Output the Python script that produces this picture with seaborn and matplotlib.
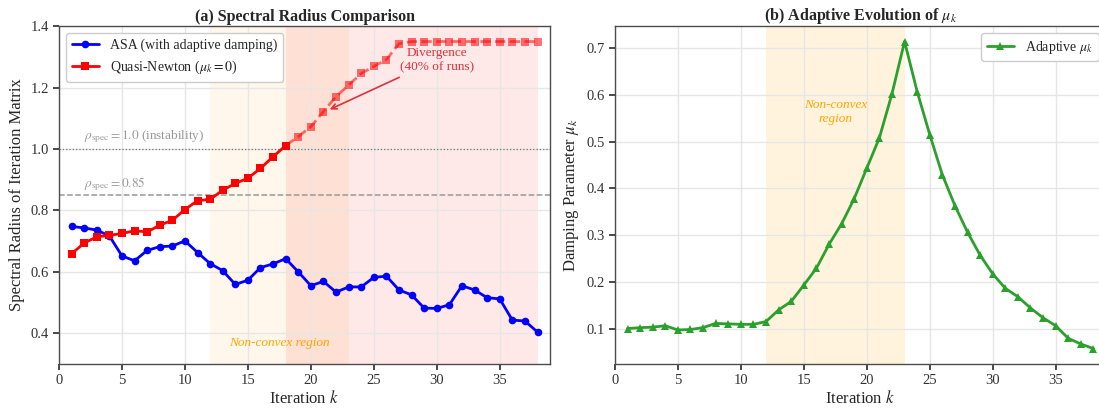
import matplotlib
matplotlib.use("Agg")
import matplotlib.pyplot as plt
import seaborn as sns
import pandas as pd

# Iterations
iterations = list(range(1, 39))

# (a) spectral radius, ASA with adaptive damping
asa_rho = [0.748, 0.743, 0.736, 0.717, 0.652, 0.636, 0.670, 0.682, 0.684, 0.701,
           0.663, 0.627, 0.604, 0.559, 0.573, 0.614, 0.626, 0.643, 0.600, 0.555,
           0.569, 0.534, 0.551, 0.551, 0.582, 0.586, 0.541, 0.525, 0.482, 0.481,
           0.493, 0.555, 0.541, 0.516, 0.512, 0.443, 0.440, 0.404]

# (a) spectral radius, Quasi-Newton (mu_k = 0), capped at 1.35 after divergence
qn_rho = [0.659, 0.694, 0.714, 0.719, 0.725, 0.734, 0.730, 0.752, 0.768, 0.803,
          0.832, 0.836, 0.866, 0.888, 0.905, 0.937, 0.975, 1.011, 1.040, 1.073,
          1.122, 1.171, 1.208, 1.246, 1.269, 1.291, 1.343, 1.35, 1.35, 1.35,
          1.35, 1.35, 1.35, 1.35, 1.35, 1.35, 1.35, 1.35]

# (b) adaptive damping parameter
mu_k = [0.100, 0.102, 0.103, 0.106, 0.097, 0.098, 0.102, 0.111, 0.110, 0.109,
        0.109, 0.115, 0.140, 0.158, 0.193, 0.229, 0.280, 0.324, 0.378, 0.443,
        0.508, 0.602, 0.714, 0.607, 0.515, 0.429, 0.363, 0.306, 0.257, 0.217,
        0.186, 0.168, 0.144, 0.123, 0.106, 0.079, 0.067, 0.057]

diverge_k = 18
nonconvex = (12, 23)
unstable = (18, 38)

df = pd.DataFrame({"k": iterations, "asa": asa_rho, "qn": qn_rho, "mu": mu_k})
df_stable = df[df["k"] <= diverge_k]
df_div = df[df["k"] >= diverge_k]

sns.set_theme(style="whitegrid")
plt.rcParams["font.family"] = ["Liberation Serif", "DejaVu Serif"]
plt.rcParams["mathtext.fontset"] = "stix"
plt.rcParams["axes.edgecolor"] = "0.3"
plt.rcParams["axes.linewidth"] = 1.0
plt.rcParams["grid.color"] = "0.9"
plt.rcParams["xtick.bottom"] = True
plt.rcParams["ytick.left"] = True
plt.rcParams["xtick.major.size"] = 4
plt.rcParams["ytick.major.size"] = 4
plt.rcParams["xtick.color"] = "0.2"
plt.rcParams["ytick.color"] = "0.2"

fig, (ax1, ax2) = plt.subplots(1, 2, figsize=(10.99, 4.09), dpi=100)
fig.subplots_adjust(left=0.0537, right=1.0064, bottom=0.110, top=0.936, wspace=0.132)

# ---- (a) Spectral radius ----
ax1.axvspan(*nonconvex, color="orange", alpha=0.08, lw=0, zorder=0)
ax1.axvspan(*unstable, color="red", alpha=0.09, lw=0, zorder=0)

ax1.axhline(1.0, color="0.45", ls=":", lw=0.9, zorder=1)
ax1.axhline(0.85, color="0.6", ls="--", lw=1.1, zorder=1)
ax1.text(2, 1.012, r"$\rho_{\rm spec} = 1.0$ (instability)", color="0.6", fontsize=9.5,
         ha="left", va="bottom")
ax1.text(2, 0.858, r"$\rho_{\rm spec} = 0.85$", color="0.6", fontsize=9.5,
         ha="left", va="bottom")

sns.lineplot(data=df, x="k", y="asa", ax=ax1, color="blue", marker="o", markersize=5.5,
             markeredgewidth=0, lw=2, label="ASA (with adaptive damping)", zorder=3)
sns.lineplot(data=df_stable, x="k", y="qn", ax=ax1, color="red", marker="s", markersize=5.5,
             markeredgewidth=0, lw=2, label=r"Quasi-Newton ($\mu_k = 0$)", zorder=3)
sns.lineplot(data=df_div, x="k", y="qn", ax=ax1, color="red", marker="s", markersize=5.5,
             markeredgewidth=0, lw=2, ls="--", alpha=0.55, label=None, legend=False,
             zorder=3)

ax1.annotate("Divergence\n(40% of runs)", xy=(21.3, 1.125), xytext=(30, 1.29),
             ha="center", va="center", color="#e0303a", fontsize=9.5,
             arrowprops=dict(arrowstyle="->", color="#e0303a", lw=1.2))
ax1.text(17.5, 0.37, "Non-convex region", color="orange", fontsize=9.5, style="italic",
         ha="center", va="center")

ax1.set_xlim(0, 39)
ax1.set_ylim(0.3, 1.4)
ax1.set_xticks(range(0, 40, 5))
ax1.set_yticks([0.4, 0.6, 0.8, 1.0, 1.2, 1.4])
ax1.tick_params(labelsize=10.5)
ax1.set_xlabel("Iteration $k$", fontsize=12, labelpad=2)
ax1.set_ylabel("Spectral Radius of Iteration Matrix", fontsize=12)
ax1.set_title("(a) Spectral Radius Comparison", fontsize=11.5, fontweight="bold", pad=4)
ax1.legend(loc="upper left", fontsize=10, frameon=True, framealpha=1.0, edgecolor="0.8")

# ---- (b) Adaptive mu_k ----
ax2.axvspan(*nonconvex, color="orange", alpha=0.13, lw=0, zorder=0)
sns.lineplot(data=df, x="k", y="mu", ax=ax2, color="#2ca02c", marker="^", markersize=5.5,
             markeredgewidth=0, lw=2, label=r"Adaptive $\mu_k$", zorder=3)
ax2.text(17.5, 0.563, "Non-convex\nregion", color="orange", fontsize=9.5, style="italic",
         ha="center", va="center")

ax2.set_xlim(0, 39)
ax2.set_xticks(range(0, 40, 5))
ax2.set_yticks([0.1, 0.2, 0.3, 0.4, 0.5, 0.6, 0.7])
ax2.tick_params(labelsize=10.5)
ax2.set_xlabel("Iteration $k$", fontsize=12, labelpad=2)
ax2.set_ylabel(r"Damping Parameter $\mu_k$", fontsize=12)
ax2.set_title(r"(b) Adaptive Evolution of $\mu_k$", fontsize=11.5, fontweight="bold", pad=4)
ax2.legend(loc="upper right", fontsize=10, frameon=True, framealpha=1.0, edgecolor="0.8")

fig.savefig("out.png", dpi=100)
